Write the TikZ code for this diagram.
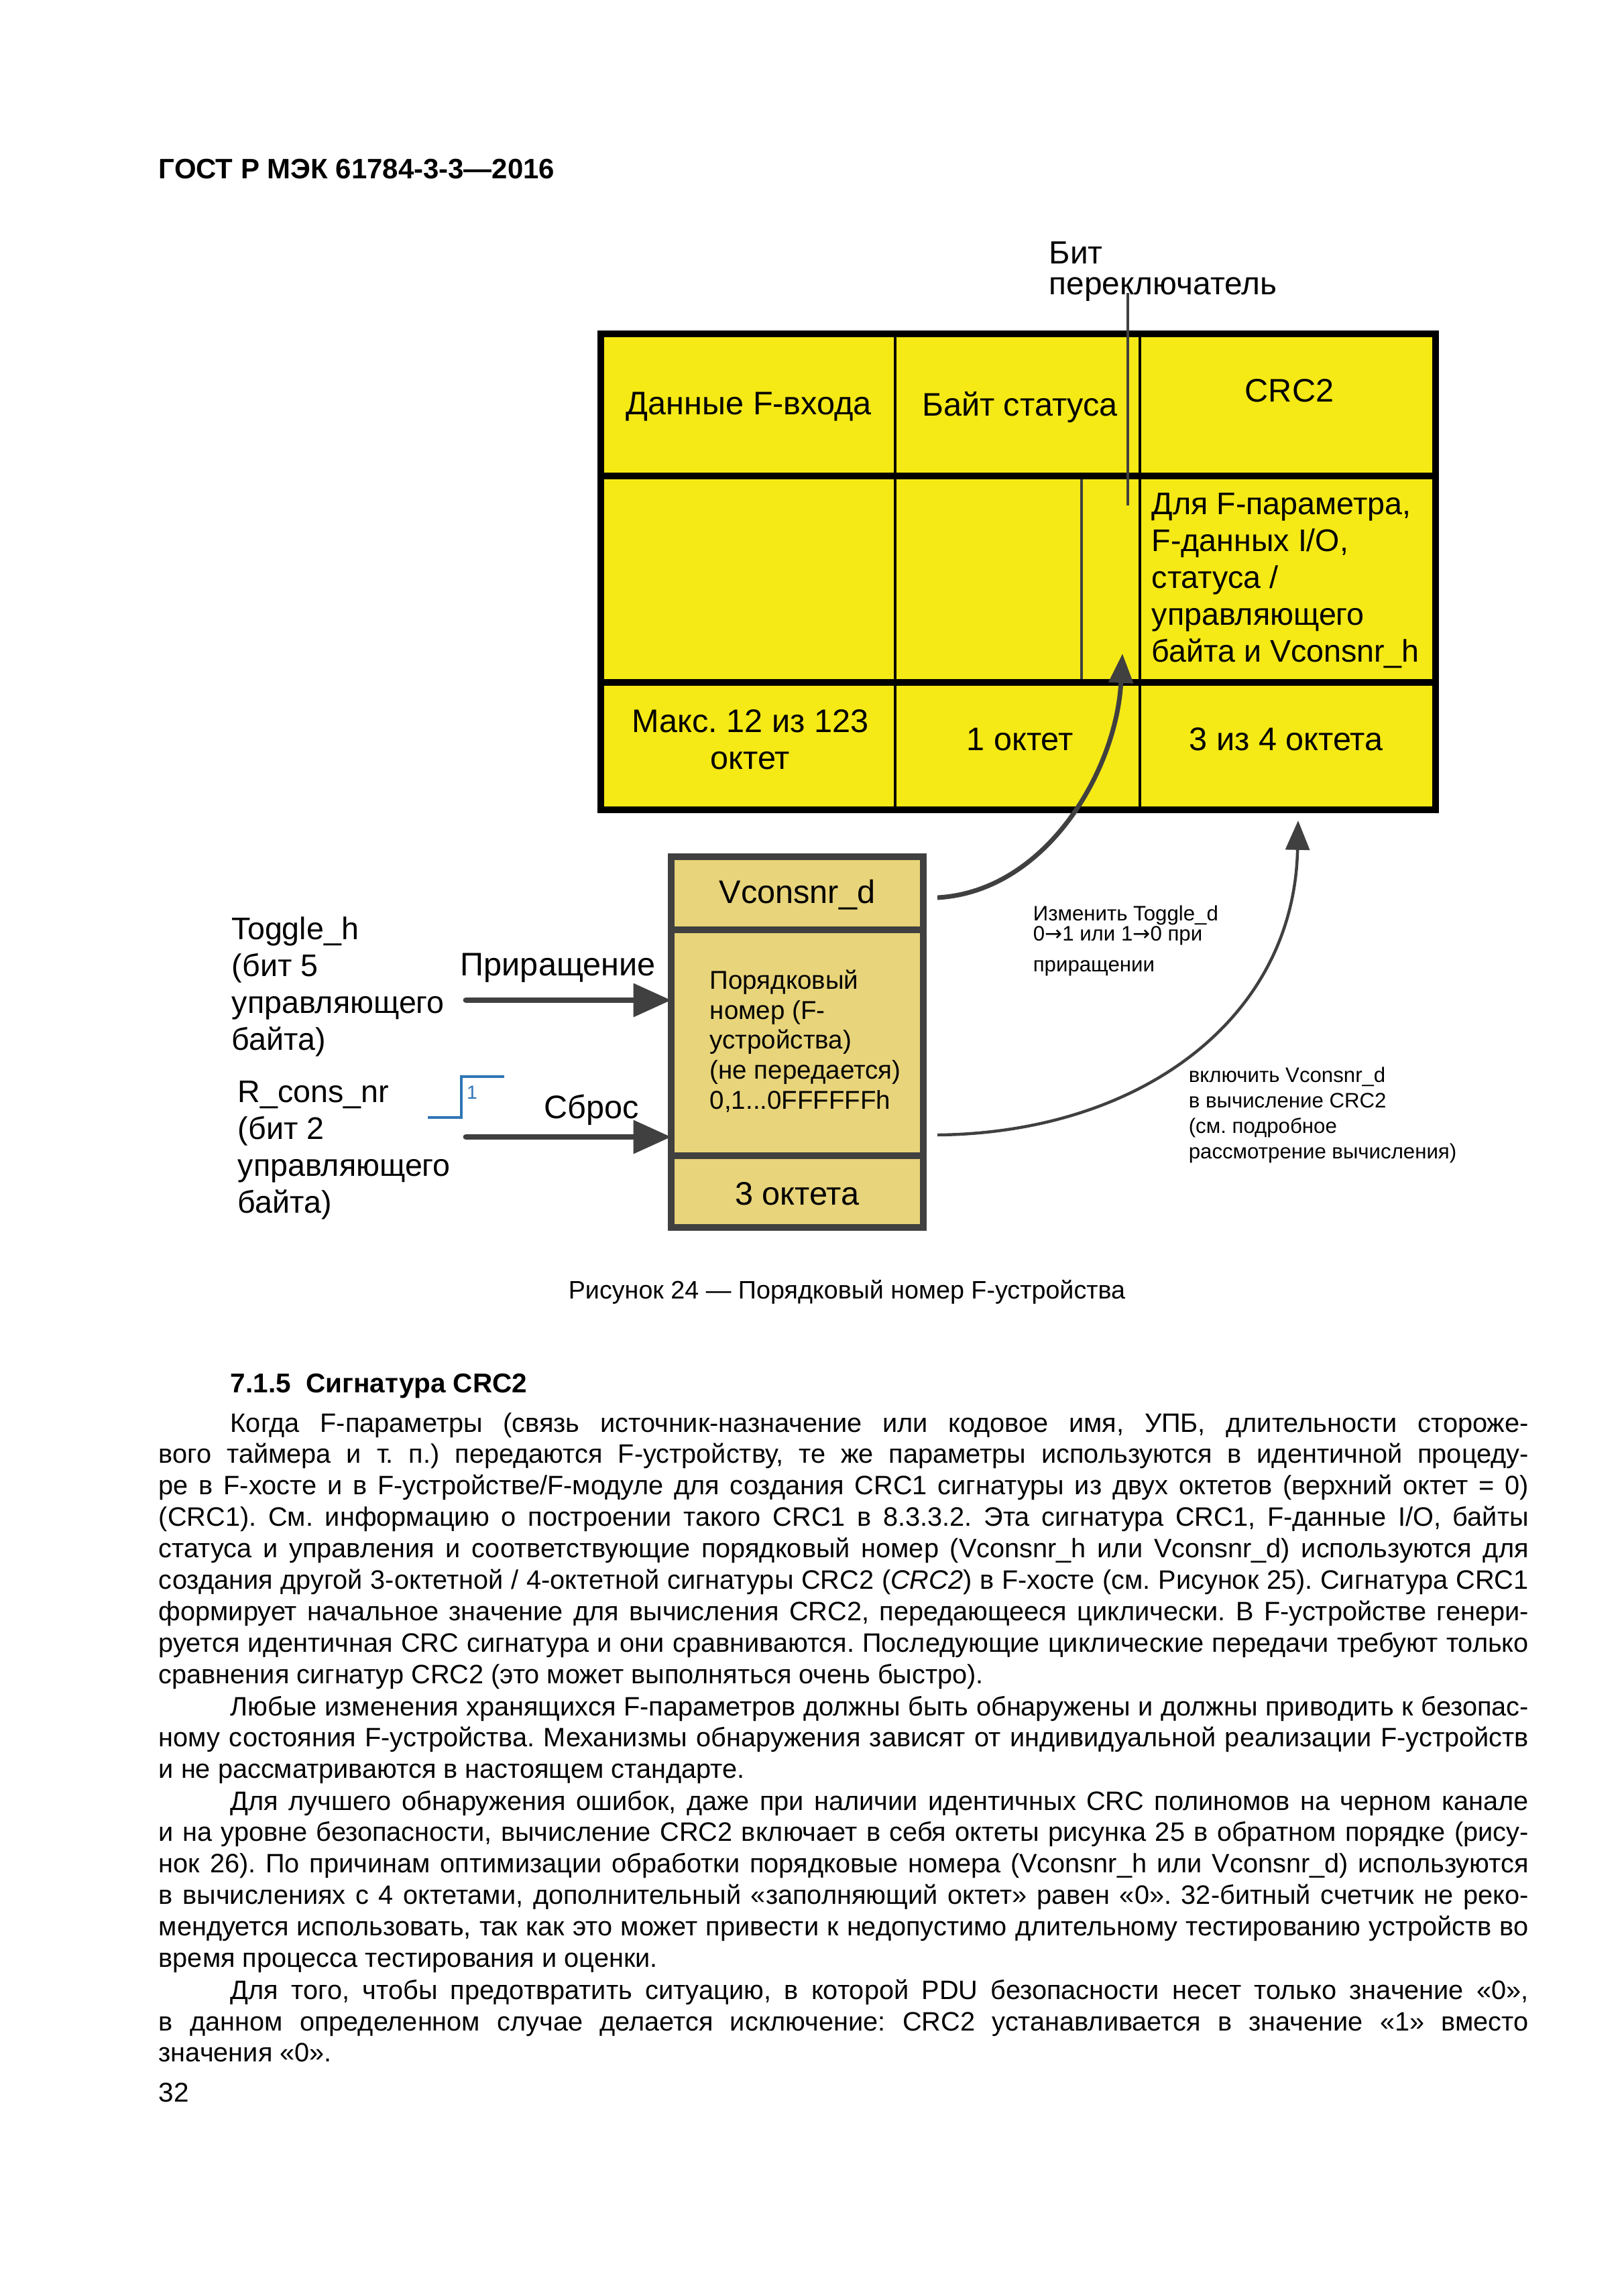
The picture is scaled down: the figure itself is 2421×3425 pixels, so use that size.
\documentclass[tikz,border=0pt]{standalone}
\usepackage{fontspec}
\setmainfont{Liberation Sans}
\newfontfamily\arrowfont{DejaVu Sans}
\usetikzlibrary{arrows.meta}
\frenchspacing

\definecolor{cellyellow}{RGB}{245,233,22}
\definecolor{boxtan}{RGB}{232,212,122}
\definecolor{darkline}{RGB}{64,64,64}
\definecolor{stepblue}{RGB}{46,117,182}

% one justified line of body text
\newcommand{\jl}[1]{\hbox to 177.21mm{\spaceskip=\fontdimen2\font plus 2\fontdimen2\font minus 0.4\fontdimen2\font\relax #1}}
\newcommand{\pind}{\hspace*{9.28mm}}
\newcommand{\ar}{{\arrowfont\char"2192}}

\begin{document}
\begin{tikzpicture}[
  x=0.086741mm, y=-0.086741mm,
  lbl/.style={inner sep=0pt, font=\fontsize{12}{13.6}\selectfont},
  lblsm/.style={inner sep=0pt, font=\fontsize{9.5}{11.05}\selectfont},
  note/.style={inner sep=0pt, font=\fontsize{7.7}{9.4}\selectfont, align=left, anchor=north west},
  bodypar/.style={inner sep=0pt, anchor=base west, text width=177.21mm,
                  font=\fontsize{9.8}{11.59}\selectfont},
  bigarrow/.style={darkline, line width=2.2pt, line cap=round,
                   -{Triangle[length=4.9mm, width=4.2mm]}},
  curvearrow/.style={darkline, -{Triangle[length=3.8mm, width=3.1mm]}},
]
  \fill[white] (0,0) rectangle (2421,3425);
  \useasboundingbox (0,0) rectangle (2421,3425);

  % header
  \node[inner sep=0pt, anchor=base west, font=\fontsize{10.35}{12}\selectfont\bfseries] (head) at (236,266) {ГОСТ Р МЭК 61784-3-3—2016};

  % ── F-input PDU table ──
  \fill[cellyellow] (896,498) rectangle (2141,1208);
  \draw[line width=0.8pt] (1335,498) -- (1335,1208);
  \draw[line width=0.8pt] (1700,498) -- (1700,1208);
  \draw[darkline, line width=0.8pt] (1613,710) -- (1613,1018);
  \draw[line width=2.4pt] (896,710) -- (2141,710);
  \draw[line width=2.4pt] (896,1018) -- (2141,1018);
  \draw[line width=2.4pt] (896,498) rectangle (2141,1208);

  \node[lbl] (dat) at (1117,607) {Данные F-входа};
  \node[lbl] (stat) at (1521,607) {Байт статуса};
  \node[lbl] (crc) at (1923,583) {CRC2};
  \node[lbl, align=left, anchor=west, font=\fontsize{11.5}{13.6}\selectfont] (crcnote) at (1717,866)
    {Для F-параметра,\\F-данных I/O,\\статуса /\\управляющего\\байта и Vconsnr\_h};
  \node[lbl, align=center] (len1) at (1119,1103) {Макс. 12 из 123\\октет};
  \node[lbl] (len2) at (1521,1103) {1 октет};
  \node[lbl] (len3) at (1918,1103) {3 из 4 октета};

  % toggle bit label
  \node[lbl, align=left, anchor=west, font=\fontsize{11.8}{11.3}\selectfont] (togbit) at (1564,405) {Бит\\переключатель};
  \coordinate (togtop) at (1682,437);
  \coordinate (togbot) at (1682,754);
  \draw[darkline, line width=0.8pt] (togtop) -- (togbot);

  % ── Vconsnr_d box ──
  \fill[boxtan] (1001,1278) rectangle (1377,1831);
  \draw[darkline, line width=2.4pt] (1001,1387) -- (1377,1387);
  \draw[darkline, line width=2.4pt] (1001,1724) -- (1377,1724);
  \draw[darkline, line width=2.4pt] (1001,1278) rectangle (1377,1831);
  \node[lbl] (vc) at (1189,1335) {Vconsnr\_d};
  \node[lblsm, align=left, anchor=west] (vcnote) at (1058,1553)
    {Порядковый\\номер (F-\\устройства)\\(не передается)\\0,1...0FFFFFFh};
  \node[lbl] (vclen) at (1189,1781) {3 октета};

  % inputs on the left
  \node[lbl, align=left, anchor=west, font=\fontsize{11.5}{13.6}\selectfont] (togh) at (345,1472)
    {Toggle\_h\\(бит 5\\управляющего\\байта)};
  \node[lbl, anchor=west] (inc) at (686,1444) {Приращение};
  \coordinate (incA) at (695,1492);
  \coordinate (incB) at (1001,1492);
  \draw[bigarrow] (incA) -- (incB);

  \node[lbl, align=left, anchor=west, font=\fontsize{11.5}{13.6}\selectfont] (rcons) at (354,1716)
    {R\_cons\_nr\\(бит 2\\управляющего\\байта)};
  \node[lbl, anchor=west] (rst) at (811,1656) {Сброс};
  \coordinate (rstA) at (695,1696);
  \coordinate (rstB) at (1001,1696);
  \draw[bigarrow] (rstA) -- (rstB);

  % rising edge
  \coordinate (stepA) at (638,1667);
  \coordinate (stepB) at (752,1606);
  \draw[stepblue, line width=1.2pt] (stepA) -- (688,1667) -- (688,1606) -- (stepB);
  \node[inner sep=0pt, text=stepblue, font=\fontsize{7}{8}\selectfont] (stepone) at (704,1630) {1};

  % curved connectors
  \coordinate (vcA) at (1398,1339);
  \coordinate (vcB) at (1674,975);
  \draw[curvearrow, line width=1.7pt] (vcA) .. controls (1560,1330) and (1665,1150) .. (vcB);
  \coordinate (crcA) at (1398,1693);
  \coordinate (crcB) at (1936,1224);
  \draw[curvearrow, line width=1.1pt] (crcA) .. controls (1700,1690) and (1930,1520) .. (crcB);

  \node[note] (labchg) at (1540,1350)
    {Изменить Toggle\_d\\[-1.9pt]0\ar1 или 1\ar0 при\\[1.9pt]приращении};
  \node[note] (labincl) at (1772,1591)
    {включить Vconsnr\_d\\в вычисление CRC2\\(см. подробное\\рассмотрение вычисления)};

  % caption and text
  \node[inner sep=0pt, anchor=base, font=\fontsize{9.3}{12}\selectfont] (caption) at (1263,1937)
    {Рисунок 24 — Порядковый номер F-устройства};
  \node[inner sep=0pt, anchor=base west, font=\fontsize{10}{12}\selectfont\bfseries] (sec) at (343,2077)
    {7.1.5\ \ Сигнатура CRC2};

  \node[bodypar] (par1) at (236,2136) {%
    \jl{\pind Когда F-параметры (связь источник-назначение или кодовое имя, УПБ, длительности стороже-}
    \jl{вого таймера и т. п.) передаются F-устройству, те же параметры используются в идентичной процеду-}
    \jl{ре в F-хосте и в F-устройстве/F-модуле для создания CRC1 сигнатуры из двух октетов (верхний октет = 0)}
    \jl{(CRC1). См. информацию о построении такого CRC1 в 8.3.3.2. Эта сигнатура CRC1, F-данные I/O, байты}
    \jl{статуса и управления и соответствующие порядковый номер (Vconsnr\_h или Vconsnr\_d) используются для}
    \jl{создания другой 3-октетной / 4-октетной сигнатуры CRC2 (\textit{CRC2}) в F-хосте (см. Рисунок 25). Сигнатура CRC1}
    \jl{формирует начальное значение для вычисления CRC2, передающееся циклически. В F-устройстве генери-}
    \jl{руется идентичная CRC сигнатура и они сравниваются. Последующие циклические передачи требуют только}
    \jl{сравнения сигнатур CRC2 (это может выполняться очень быстро).\hfil}};
  \node[bodypar] (par2) at (236,2559) {%
    \jl{\pind Любые изменения хранящихся F-параметров должны быть обнаружены и должны приводить к безопас-}
    \jl{ному состояния F-устройства. Механизмы обнаружения зависят от индивидуальной реализации F-устройств}
    \jl{и не рассматриваются в настоящем стандарте.\hfil}};
  \node[bodypar] (par3) at (236,2700) {%
    \jl{\pind Для лучшего обнаружения ошибок, даже при наличии идентичных CRC полиномов на черном канале}
    \jl{и на уровне безопасности, вычисление CRC2 включает в себя октеты рисунка 25 в обратном порядке (рису-}
    \jl{нок 26). По причинам оптимизации обработки порядковые номера (Vconsnr\_h или Vconsnr\_d) используются}
    \jl{в вычислениях с 4 октетами, дополнительный «заполняющий октет» равен «0». 32-битный счетчик не реко-}
    \jl{мендуется использовать, так как это может привести к недопустимо длительному тестированию устройств во}
    \jl{время процесса тестирования и оценки.\hfil}};
  \node[bodypar] (par4) at (236,2982) {%
    \jl{\pind Для того, чтобы предотвратить ситуацию, в которой PDU безопасности несет только значение «0»,}
    \jl{в данном определенном случае делается исключение: CRC2 устанавливается в значение «1» вместо}
    \jl{значения «0».\hfil}};

  \node[inner sep=0pt, anchor=base west, font=\fontsize{10}{12}\selectfont] (pagenum) at (236,3135) {32};
\end{tikzpicture}
\end{document}
